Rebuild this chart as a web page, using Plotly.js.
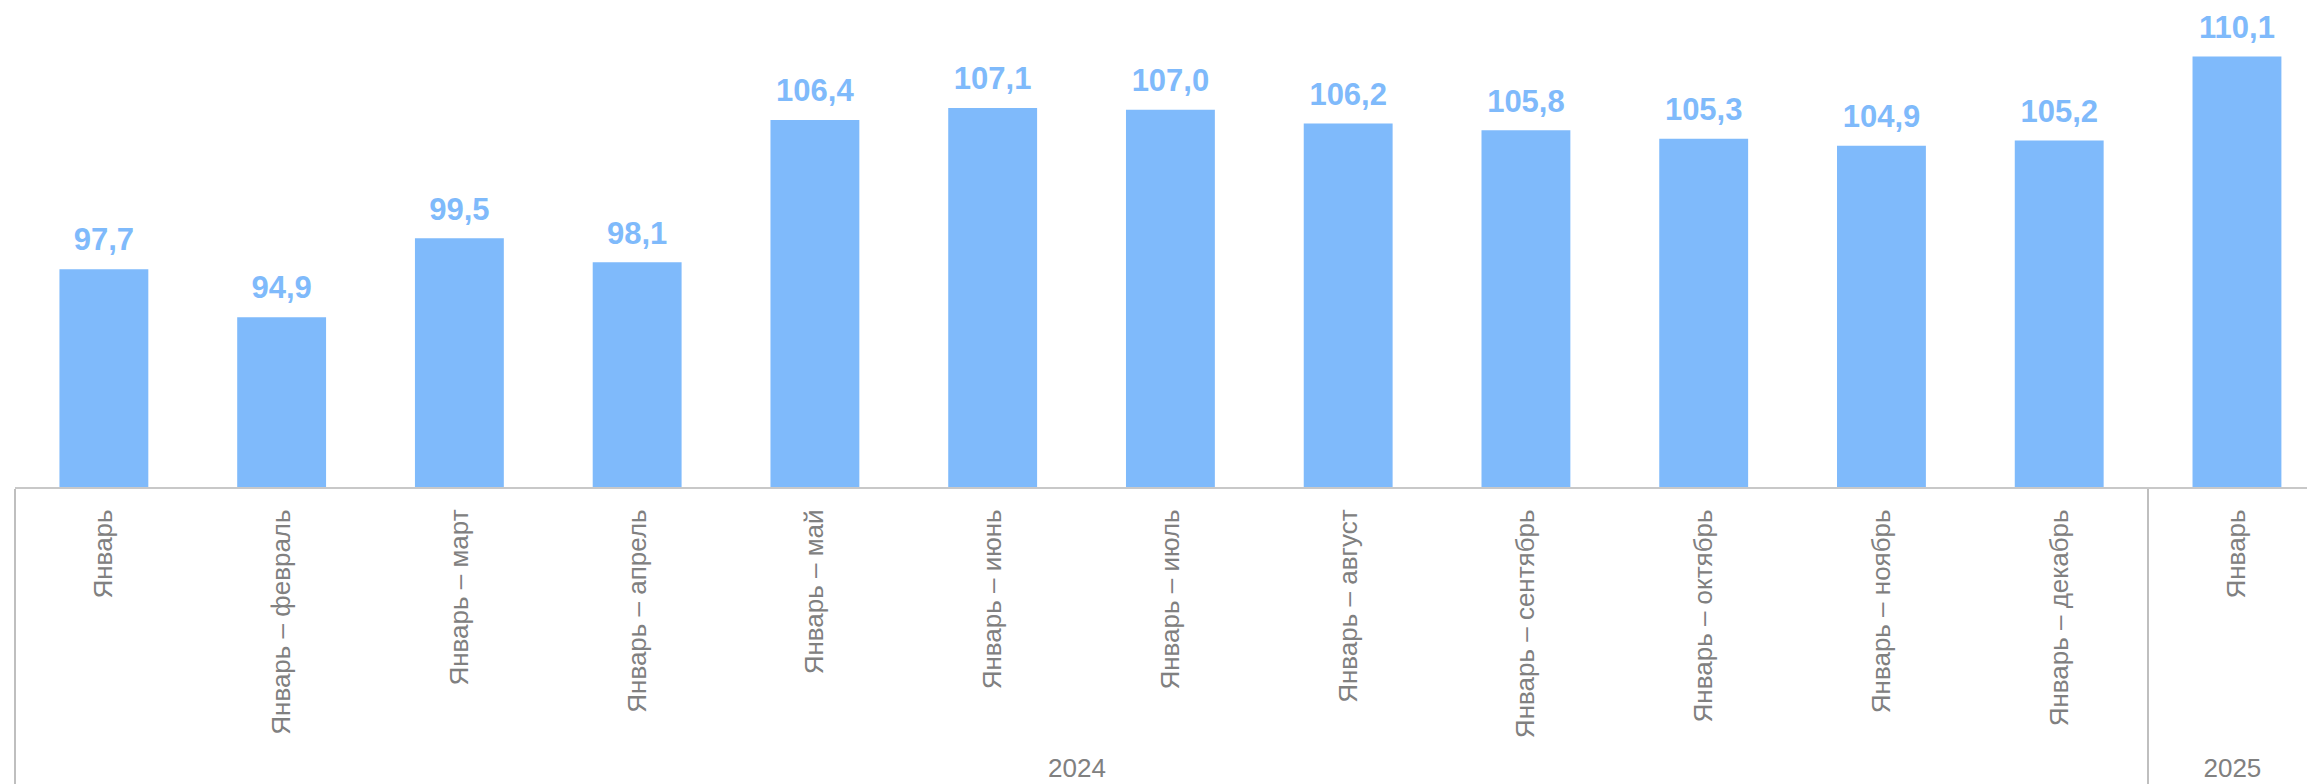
<!DOCTYPE html>
<html>
<head>
<meta charset="utf-8">
<script src="https://cdn.plot.ly/plotly-3.0.1.min.js"></script>
<style>
  html, body { margin: 0; padding: 0; background: #ffffff; }
  #chart { width: 2307px; height: 784px; }
</style>
</head>
<body>
<div id="chart"></div>
<script>
const years = ["2024","2024","2024","2024","2024","2024","2024","2024","2024","2024","2024","2024","2025"];
const periods = [
  "Январь",
  "Январь – февраль",
  "Январь – март",
  "Январь – апрель",
  "Январь – май",
  "Январь – июнь",
  "Январь – июль",
  "Январь – август",
  "Январь – сентябрь",
  "Январь – октябрь",
  "Январь – ноябрь",
  "Январь – декабрь",
  "Январь"
];
const values = [97.7, 94.9, 99.5, 98.1, 106.4, 107.1, 107.0, 106.2, 105.8, 105.3, 104.9, 105.2, 110.1];
const valueLabels = values.map(v => v.toFixed(1).replace('.', ','));

const barColor = '#7fbafb';
const labelColor = '#7fbafb';
const grey = '#808080';

const bars = {
  type: 'bar',
  x: [years, periods],
  y: values,
  marker: { color: barColor, line: { width: 0 } },
  hoverinfo: 'skip',
  showlegend: false
};

const labels = {
  type: 'scatter',
  mode: 'markers+text',
  x: [years, periods],
  y: values,
  text: valueLabels,
  textposition: 'top center',
  textfont: { family: 'Liberation Sans, Arial, sans-serif', size: 31, color: labelColor, weight: 'bold' },
  marker: { size: 16, opacity: 0 },
  hoverinfo: 'skip',
  showlegend: false,
  cliponaxis: false
};

const layout = {
  width: 2307,
  height: 784,
  margin: { l: 15, r: 0, t: 20, b: 297 },
  paper_bgcolor: '#ffffff',
  plot_bgcolor: '#ffffff',
  bargap: 0.5,
  font: { family: 'Liberation Sans, Arial, sans-serif', color: grey },
  xaxis: {
    type: 'multicategory',
    range: [-0.5, 12.394],
    tickangle: -90,
    ticks: '',
    showline: true,
    linecolor: '#c8c8c8',
    linewidth: 2,
    showgrid: false,
    zeroline: false,
    tickfont: { size: 26, color: grey },
    showdividers: true,
    dividercolor: '#bfbfbf',
    dividerwidth: 2,
    ticklabelstandoff: 10
  },
  yaxis: {
    range: [85, 112.23],
    visible: false,
    showgrid: false,
    zeroline: false
  }
};

Plotly.newPlot('chart', [bars, labels], layout, { staticPlot: true, displayModeBar: false });
</script>
</body>
</html>
